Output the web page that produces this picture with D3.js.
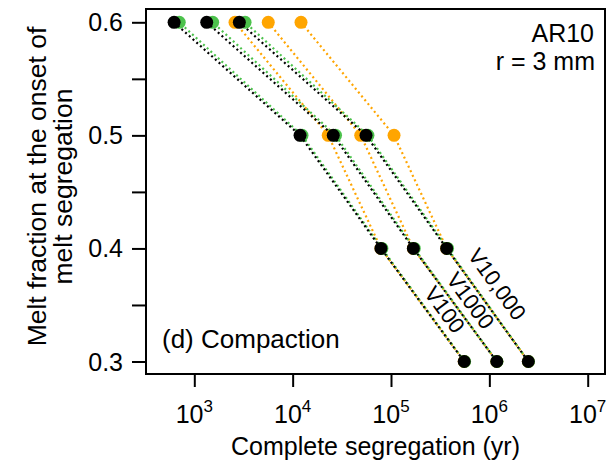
<!DOCTYPE html>
<html>
<head>
<meta charset="utf-8">
<script src="https://cdn.jsdelivr.net/npm/d3@7"></script>
<style>
  body { margin: 0; background: #fff; }
  text { font-family: "Liberation Sans", Arial, sans-serif; fill: #000; }
</style>
</head>
<body>
<div id="chart"></div>
<script>
// melt fraction levels (y) and segregation times (yr) for each velocity
var meltLevels = [0.6, 0.5, 0.4, 0.3];

var orangeV100 = [2594, 23000, 79000, 555000];
var orangeV1000 = [5650, 49200, 168700, 1190000];
var orangeV10000 = [12160, 107400, 368000, 2490000];

var greenV100 = [703, 12450, 80800, 560000];
var greenV1000 = [1538, 27300, 172500, 1195000];
var greenV10000 = [3282, 58300, 376000, 2500000];

var blackV100 = [623, 11890, 79000, 555000];
var blackV1000 = [1337, 25880, 168700, 1190000];
var blackV10000 = [2870, 55700, 368000, 2490000];

var lineLabels = ["V100", "V1000", "V10,000"];
var xTickExps = [3, 4, 5, 6, 7];
var yTicks = [0.3, 0.35, 0.4, 0.45, 0.5, 0.55, 0.6];
var yTickLabels = [0.3, 0.4, 0.5, 0.6];

var svgWidth = 613;
var svgHeight = 468;
var box = { left: 146, right: 605, top: 9, bottom: 374 };

var svg = d3.select("#chart")
  .append("svg")
  .attr("width", svgWidth)
  .attr("height", svgHeight);

var x = d3.scaleLog()
  .domain([1e3, 1e7])
  .range([194.3, 587.7]);

var y = d3.scaleLinear()
  .domain([0.3, 0.6])
  .range([361.5, 22.3]);

// axes
var bottomAxis = d3.axisBottom(x)
  .tickValues(xTickExps.map(function(e) { return Math.pow(10, e); }))
  .tickSize(13)
  .tickFormat("");

svg.append("g")
  .attr("transform", "translate(0," + box.bottom + ")")
  .call(bottomAxis)
  .call(function(g) { g.select(".domain").remove(); })
  .call(function(g) { g.selectAll("line").attr("stroke-width", 2); });

var xLab = svg.append("g").selectAll("text")
  .data(xTickExps)
  .enter()
  .append("text")
  .attr("x", function(d) { return x(Math.pow(10, d)); })
  .attr("y", 423)
  .attr("text-anchor", "middle")
  .style("font-size", "25px");
xLab.append("tspan").text("10");
xLab.append("tspan")
  .attr("dy", -11)
  .style("font-size", "17px")
  .text(function(d) { return d; });

var leftAxis = d3.axisLeft(y)
  .tickValues(yTicks)
  .tickSize(14)
  .tickFormat("");

svg.append("g")
  .attr("transform", "translate(" + box.left + ",0)")
  .call(leftAxis)
  .call(function(g) { g.select(".domain").remove(); })
  .call(function(g) { g.selectAll("line").attr("stroke-width", 2); });

svg.append("g").selectAll("text")
  .data(yTickLabels)
  .enter()
  .append("text")
  .attr("x", 123)
  .attr("y", function(d) { return y(d); })
  .attr("dy", "0.36em")
  .attr("text-anchor", "end")
  .style("font-size", "25px")
  .text(function(d) { return d3.format(".1f")(d); });

// series
function drawSeries(values, colour, dash, offset) {
  var pts = values.map(function(v, i) { return [x(v), y(meltLevels[i])]; });
  svg.append("path")
    .attr("d", d3.line()(pts))
    .attr("fill", "none")
    .attr("stroke", colour)
    .attr("stroke-width", 2.2)
    .attr("stroke-dasharray", dash)
    .attr("stroke-dashoffset", offset);
  svg.append("g").selectAll("circle")
    .data(pts)
    .enter()
    .append("circle")
    .attr("cx", function(d) { return d[0]; })
    .attr("cy", function(d) { return d[1]; })
    .attr("r", 6.5)
    .attr("fill", colour);
}

[orangeV100, orangeV1000, orangeV10000].forEach(function(s) { drawSeries(s, "#FFA500", "2,3", 0); });
[greenV100, greenV1000, greenV10000].forEach(function(s) { drawSeries(s, "#4CC24C", "2,3", 2.5); });
[blackV100, blackV1000, blackV10000].forEach(function(s) { drawSeries(s, "#000", "2,3", 0); });

// labels along the lowest segment of the black lines
var labelPos = [0.62, 0.54, 0.42];
var labelOff = [15, 15, 20];
[blackV100, blackV1000, blackV10000].forEach(function(s, i) {
  var x0 = x(s[2]), y0 = y(meltLevels[2]);
  var x1 = x(s[3]), y1 = y(meltLevels[3]);
  var ang = Math.atan2(y1 - y0, x1 - x0);
  var t = labelPos[i];
  var cx = x0 + t * (x1 - x0) + Math.sin(ang) * labelOff[i];
  var cy = y0 + t * (y1 - y0) - Math.cos(ang) * labelOff[i];
  svg.append("text")
    .attr("transform", "translate(" + cx + "," + cy + ") rotate(" + (ang * 180 / Math.PI) + ")")
    .attr("text-anchor", "middle")
    .attr("dy", "0.35em")
    .style("font-size", "22px")
    .text(lineLabels[i]);
});

// plot box
svg.append("rect")
  .attr("x", box.left)
  .attr("y", box.top)
  .attr("width", box.right - box.left)
  .attr("height", box.bottom - box.top)
  .attr("fill", "none")
  .attr("stroke", "#000")
  .attr("stroke-width", 2);

// annotations
svg.append("text")
  .attr("x", 594).attr("y", 42)
  .attr("text-anchor", "end")
  .style("font-size", "25px")
  .text("AR10");
svg.append("text")
  .attr("x", 595).attr("y", 70)
  .attr("text-anchor", "end")
  .style("font-size", "25px")
  .text("r = 3 mm");
svg.append("text")
  .attr("x", 162).attr("y", 348)
  .style("font-size", "26px")
  .text("(d) Compaction");

// axis titles
svg.append("text")
  .attr("x", (box.left + box.right) / 2)
  .attr("y", 455)
  .attr("text-anchor", "middle")
  .style("font-size", "25px")
  .text("Complete segregation (yr)");

var yTitle = svg.append("text")
  .attr("transform", "translate(0," + ((box.top + box.bottom) / 2 - 5) + ") rotate(-90)")
  .attr("text-anchor", "middle")
  .style("font-size", "26.5px");
yTitle.append("tspan").attr("x", 0).attr("y", 46).text("Melt fraction at the onset of");
yTitle.append("tspan").attr("x", 0).attr("y", 72).text("melt segregation");
</script>
</body>
</html>
